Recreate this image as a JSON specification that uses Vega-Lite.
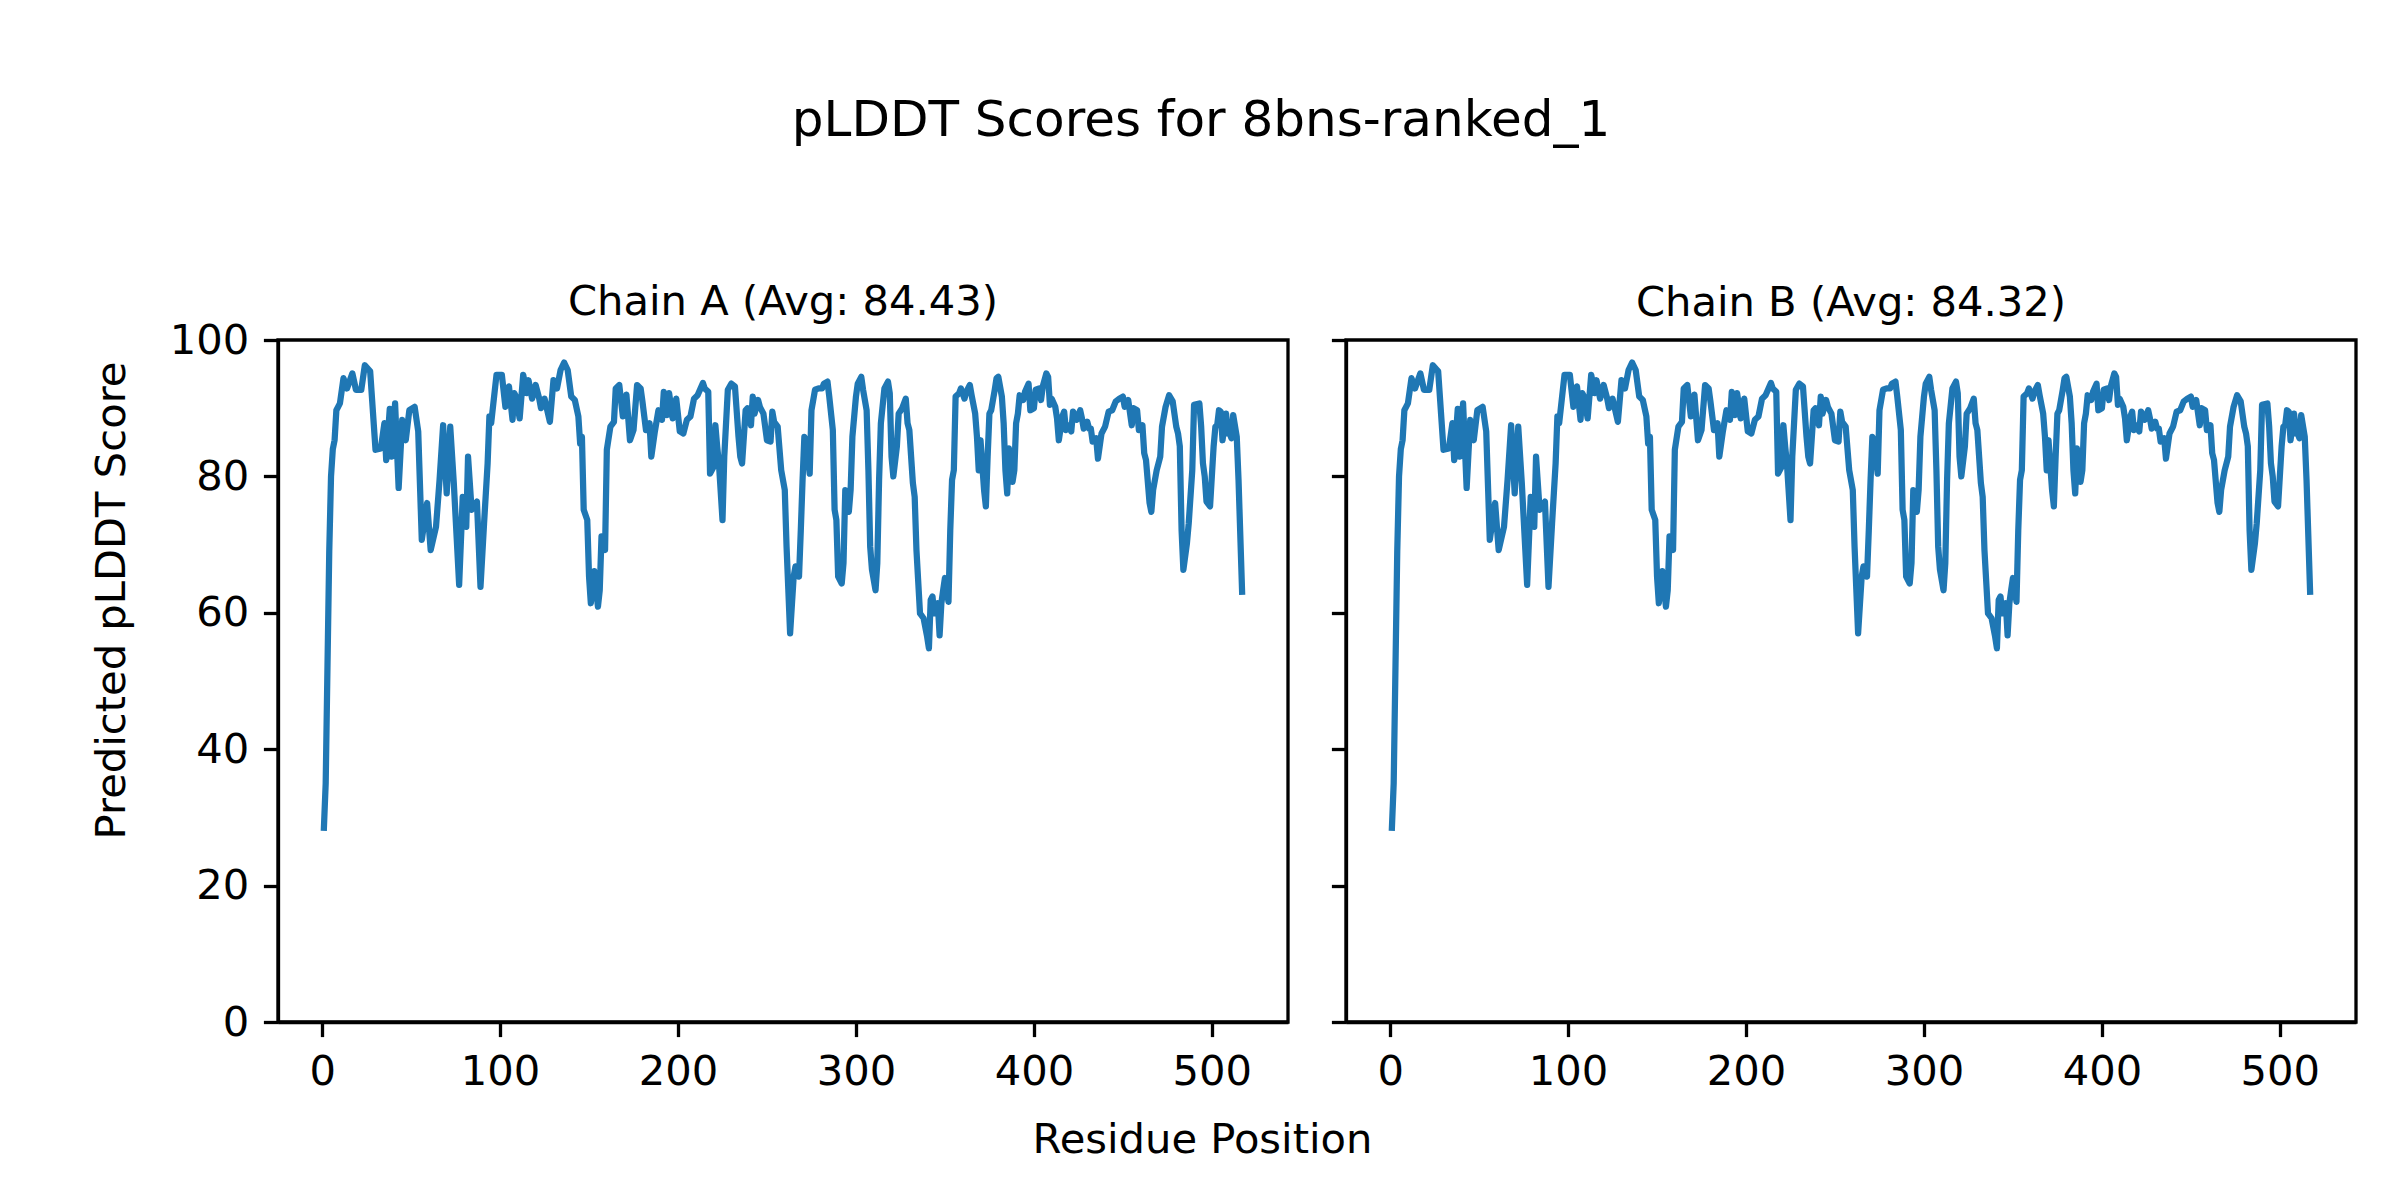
{
  "$schema": "https://vega.github.io/schema/vega-lite/v6.json",
  "background": "white",
  "padding": {"left": 89, "top": 95, "right": 0, "bottom": 0},
  "title": {"text": "pLDDT Scores for 8bns-ranked_1", "fontSize": 50, "font": "DejaVu Sans", "fontWeight": "normal", "color": "black", "anchor": "start", "align": "center", "frame": "group", "dx": 923, "offset": 95, "baseline": "alphabetic"},
  "data": {"values": [
    {"r":1,"A":28.5,"B":28.5},{"r":2,"A":35,"B":35},{"r":3,"A":52,"B":52},{"r":4,"A":69,"B":69},{"r":5,"A":80,"B":80},{"r":6,"A":84,"B":84},{"r":7,"A":85.3,"B":85.3},{"r":8,"A":89.7,"B":89.7},{"r":10,"A":90.7,"B":90.7},{"r":12,"A":94.4,"B":94.4},{"r":14,"A":92.9,"B":92.9},{"r":17,"A":95.1,"B":95.1},{"r":19,"A":92.7,"B":92.7},{"r":22,"A":92.7,"B":92.7},{"r":24,"A":96.3,"B":96.3},{"r":27,"A":95.4,"B":95.4},{"r":30,"A":83.9,"B":83.9},{"r":33,"A":84.1,"B":84.1},{"r":35,"A":87.8,"B":87.8},{"r":36,"A":82.4,"B":82.4},{"r":38,"A":89.9,"B":89.9},{"r":39,"A":82.9,"B":82.9},{"r":41,"A":90.7,"B":90.7},{"r":43,"A":78.3,"B":78.3},{"r":45,"A":88.3,"B":88.3},{"r":47,"A":85.3,"B":85.3},{"r":49,"A":89.7,"B":89.7},{"r":52,"A":90.2,"B":90.2},{"r":54,"A":86.6,"B":86.6},{"r":56,"A":70.7,"B":70.7},{"r":59,"A":76.1,"B":76.1},{"r":61,"A":69.2,"B":69.2},{"r":64,"A":72.6,"B":72.6},{"r":66,"A":79.5,"B":79.5},{"r":68,"A":87.5,"B":87.5},{"r":70,"A":77.5,"B":77.5},{"r":72,"A":87.3,"B":87.3},{"r":74,"A":79.0,"B":79.0},{"r":77,"A":64.1,"B":64.1},{"r":79,"A":77.0,"B":77.0},{"r":81,"A":72.6,"B":72.6},{"r":82,"A":82.9,"B":82.9},{"r":84,"A":75.1,"B":75.1},{"r":87,"A":76.3,"B":76.3},{"r":89,"A":63.8,"B":63.8},{"r":91,"A":73.1,"B":73.1},{"r":93,"A":81.9,"B":81.9},{"r":94,"A":88.8,"B":88.8},{"r":95,"A":87.8,"B":87.8},{"r":98,"A":94.9,"B":94.9},{"r":101,"A":94.9,"B":94.9},{"r":103,"A":90.2,"B":90.2},{"r":105,"A":93.2,"B":93.2},{"r":107,"A":88.3,"B":88.3},{"r":108,"A":92.2,"B":92.2},{"r":109,"A":91.7,"B":91.7},{"r":111,"A":88.5,"B":88.5},{"r":113,"A":94.9,"B":94.9},{"r":115,"A":92.2,"B":92.2},{"r":116,"A":94.1,"B":94.1},{"r":118,"A":91.4,"B":91.4},{"r":120,"A":93.4,"B":93.4},{"r":122,"A":91.4,"B":91.4},{"r":123,"A":90.0,"B":90.0},{"r":125,"A":91.4,"B":91.4},{"r":128,"A":88.0,"B":88.0},{"r":130,"A":94.1,"B":94.1},{"r":132,"A":92.9,"B":92.9},{"r":134,"A":95.6,"B":95.6},{"r":136,"A":96.7,"B":96.7},{"r":138,"A":95.6,"B":95.6},{"r":140,"A":91.7,"B":91.7},{"r":142,"A":91.2,"B":91.2},{"r":144,"A":88.8,"B":88.8},{"r":145,"A":84.8,"B":84.8},{"r":146,"A":85.8,"B":85.8},{"r":147,"A":75.1,"B":75.1},{"r":149,"A":73.6,"B":73.6},{"r":150,"A":65.3,"B":65.3},{"r":151,"A":61.4,"B":61.4},{"r":153,"A":66.1,"B":66.1},{"r":155,"A":60.9,"B":60.9},{"r":156,"A":63.3,"B":63.3},{"r":157,"A":71.2,"B":71.2},{"r":159,"A":69.2,"B":69.2},{"r":160,"A":83.9,"B":83.9},{"r":162,"A":87.3,"B":87.3},{"r":164,"A":88.0,"B":88.0},{"r":165,"A":92.9,"B":92.9},{"r":167,"A":93.4,"B":93.4},{"r":169,"A":88.8,"B":88.8},{"r":171,"A":92.0,"B":92.0},{"r":173,"A":85.3,"B":85.3},{"r":175,"A":86.8,"B":86.8},{"r":177,"A":93.4,"B":93.4},{"r":179,"A":92.9,"B":92.9},{"r":180,"A":91.0,"B":91.0},{"r":182,"A":86.8,"B":86.8},{"r":184,"A":87.8,"B":87.8},{"r":185,"A":82.9,"B":82.9},{"r":187,"A":86.6,"B":86.6},{"r":189,"A":89.7,"B":89.7},{"r":191,"A":88.3,"B":88.3},{"r":192,"A":92.4,"B":92.4},{"r":194,"A":89.0,"B":89.0},{"r":195,"A":92.2,"B":92.2},{"r":197,"A":88.5,"B":88.5},{"r":199,"A":91.4,"B":91.4},{"r":201,"A":86.6,"B":86.6},{"r":203,"A":86.3,"B":86.3},{"r":205,"A":88.3,"B":88.3},{"r":207,"A":88.8,"B":88.8},{"r":209,"A":91.4,"B":91.4},{"r":211,"A":91.9,"B":91.9},{"r":214,"A":93.7,"B":93.7},{"r":215,"A":92.9,"B":92.9},{"r":217,"A":92.4,"B":92.4},{"r":218,"A":80.4,"B":80.4},{"r":220,"A":81.4,"B":81.4},{"r":221,"A":87.5,"B":87.5},{"r":222,"A":84.4,"B":84.4},{"r":223,"A":81.9,"B":81.9},{"r":225,"A":73.6,"B":73.6},{"r":226,"A":82.9,"B":82.9},{"r":228,"A":92.7,"B":92.7},{"r":230,"A":93.6,"B":93.6},{"r":232,"A":93.2,"B":93.2},{"r":234,"A":85.8,"B":85.8},{"r":235,"A":82.9,"B":82.9},{"r":236,"A":81.9,"B":81.9},{"r":238,"A":89.7,"B":89.7},{"r":239,"A":90.0,"B":90.0},{"r":241,"A":87.5,"B":87.5},{"r":242,"A":91.7,"B":91.7},{"r":243,"A":89.2,"B":89.2},{"r":245,"A":91.2,"B":91.2},{"r":246,"A":90.2,"B":90.2},{"r":248,"A":89.2,"B":89.2},{"r":250,"A":85.3,"B":85.3},{"r":252,"A":85.1,"B":85.1},{"r":253,"A":89.5,"B":89.5},{"r":254,"A":88.0,"B":88.0},{"r":256,"A":87.3,"B":87.3},{"r":258,"A":80.9,"B":80.9},{"r":260,"A":78.0,"B":78.0},{"r":261,"A":69.7,"B":69.7},{"r":263,"A":57.0,"B":57.0},{"r":265,"A":65.3,"B":65.3},{"r":266,"A":66.8,"B":66.8},{"r":268,"A":65.3,"B":65.3},{"r":269,"A":72.1,"B":72.1},{"r":270,"A":79.5,"B":79.5},{"r":271,"A":85.8,"B":85.8},{"r":272,"A":85.3,"B":85.3},{"r":274,"A":80.4,"B":80.4},{"r":275,"A":89.7,"B":89.7},{"r":277,"A":92.7,"B":92.7},{"r":279,"A":92.9,"B":92.9},{"r":281,"A":92.9,"B":92.9},{"r":282,"A":93.6,"B":93.6},{"r":284,"A":93.9,"B":93.9},{"r":285,"A":91.7,"B":91.7},{"r":287,"A":86.8,"B":86.8},{"r":288,"A":75.1,"B":75.1},{"r":289,"A":73.6,"B":73.6},{"r":290,"A":65.3,"B":65.3},{"r":292,"A":64.3,"B":64.3},{"r":293,"A":67.3,"B":67.3},{"r":294,"A":78.0,"B":78.0},{"r":296,"A":74.8,"B":74.8},{"r":297,"A":78.0,"B":78.0},{"r":298,"A":85.8,"B":85.8},{"r":300,"A":91.7,"B":91.7},{"r":301,"A":93.6,"B":93.6},{"r":303,"A":94.6,"B":94.6},{"r":304,"A":92.7,"B":92.7},{"r":306,"A":89.7,"B":89.7},{"r":307,"A":80.9,"B":80.9},{"r":308,"A":69.7,"B":69.7},{"r":309,"A":66.3,"B":66.3},{"r":311,"A":63.3,"B":63.3},{"r":312,"A":67.3,"B":67.3},{"r":313,"A":79.5,"B":79.5},{"r":314,"A":87.8,"B":87.8},{"r":316,"A":92.9,"B":92.9},{"r":318,"A":93.9,"B":93.9},{"r":319,"A":92.2,"B":92.2},{"r":320,"A":82.9,"B":82.9},{"r":321,"A":80.0,"B":80.0},{"r":323,"A":84.4,"B":84.4},{"r":324,"A":89.2,"B":89.2},{"r":326,"A":90.0,"B":90.0},{"r":328,"A":91.4,"B":91.4},{"r":329,"A":87.8,"B":87.8},{"r":330,"A":86.8,"B":86.8},{"r":332,"A":79.0,"B":79.0},{"r":333,"A":77.0,"B":77.0},{"r":334,"A":69.2,"B":69.2},{"r":336,"A":59.9,"B":59.9},{"r":338,"A":59.2,"B":59.2},{"r":340,"A":56.5,"B":56.5},{"r":341,"A":54.8,"B":54.8},{"r":342,"A":61.9,"B":61.9},{"r":343,"A":62.4,"B":62.4},{"r":344,"A":59.9,"B":59.9},{"r":346,"A":61.4,"B":61.4},{"r":347,"A":56.7,"B":56.7},{"r":348,"A":61.4,"B":61.4},{"r":349,"A":63.3,"B":63.3},{"r":350,"A":65.1,"B":65.1},{"r":352,"A":61.6,"B":61.6},{"r":353,"A":72.1,"B":72.1},{"r":354,"A":79.5,"B":79.5},{"r":355,"A":80.9,"B":80.9},{"r":356,"A":91.7,"B":91.7},{"r":358,"A":92.2,"B":92.2},{"r":359,"A":92.9,"B":92.9},{"r":361,"A":91.4,"B":91.4},{"r":362,"A":92.4,"B":92.4},{"r":364,"A":93.4,"B":93.4},{"r":365,"A":91.9,"B":91.9},{"r":367,"A":89.2,"B":89.2},{"r":368,"A":85.8,"B":85.8},{"r":369,"A":80.9,"B":80.9},{"r":370,"A":85.3,"B":85.3},{"r":372,"A":78.0,"B":78.0},{"r":373,"A":75.6,"B":75.6},{"r":374,"A":82.9,"B":82.9},{"r":375,"A":89.2,"B":89.2},{"r":376,"A":89.7,"B":89.7},{"r":378,"A":92.7,"B":92.7},{"r":379,"A":94.4,"B":94.4},{"r":380,"A":94.6,"B":94.6},{"r":382,"A":91.7,"B":91.7},{"r":383,"A":87.8,"B":87.8},{"r":384,"A":80.9,"B":80.9},{"r":385,"A":77.5,"B":77.5},{"r":386,"A":84.1,"B":84.1},{"r":387,"A":82.4,"B":82.4},{"r":388,"A":79.2,"B":79.2},{"r":389,"A":80.9,"B":80.9},{"r":390,"A":87.8,"B":87.8},{"r":391,"A":89.2,"B":89.2},{"r":392,"A":91.9,"B":91.9},{"r":394,"A":91.2,"B":91.2},{"r":395,"A":92.4,"B":92.4},{"r":397,"A":93.6,"B":93.6},{"r":398,"A":89.7,"B":89.7},{"r":400,"A":90.0,"B":90.0},{"r":401,"A":92.7,"B":92.7},{"r":403,"A":92.9,"B":92.9},{"r":404,"A":91.2,"B":91.2},{"r":405,"A":93.2,"B":93.2},{"r":407,"A":95.1,"B":95.1},{"r":408,"A":94.6,"B":94.6},{"r":409,"A":90.5,"B":90.5},{"r":410,"A":91.4,"B":91.4},{"r":412,"A":90.2,"B":90.2},{"r":413,"A":88.5,"B":88.5},{"r":414,"A":85.3,"B":85.3},{"r":416,"A":88.8,"B":88.8},{"r":417,"A":89.5,"B":89.5},{"r":418,"A":86.8,"B":86.8},{"r":419,"A":87.5,"B":87.5},{"r":421,"A":86.6,"B":86.6},{"r":422,"A":89.5,"B":89.5},{"r":424,"A":88.3,"B":88.3},{"r":426,"A":89.7,"B":89.7},{"r":427,"A":88.5,"B":88.5},{"r":428,"A":87.0,"B":87.0},{"r":430,"A":88.0,"B":88.0},{"r":431,"A":87.0,"B":87.0},{"r":432,"A":87.0,"B":87.0},{"r":433,"A":85.1,"B":85.1},{"r":435,"A":85.6,"B":85.6},{"r":436,"A":82.6,"B":82.6},{"r":438,"A":86.3,"B":86.3},{"r":440,"A":87.3,"B":87.3},{"r":442,"A":89.5,"B":89.5},{"r":444,"A":89.7,"B":89.7},{"r":446,"A":91.0,"B":91.0},{"r":448,"A":91.4,"B":91.4},{"r":450,"A":91.7,"B":91.7},{"r":451,"A":90.2,"B":90.2},{"r":453,"A":91.2,"B":91.2},{"r":455,"A":87.5,"B":87.5},{"r":456,"A":90.0,"B":90.0},{"r":458,"A":89.7,"B":89.7},{"r":459,"A":86.8,"B":86.8},{"r":461,"A":87.5,"B":87.5},{"r":462,"A":83.4,"B":83.4},{"r":463,"A":82.4,"B":82.4},{"r":465,"A":76.1,"B":76.1},{"r":466,"A":74.8,"B":74.8},{"r":467,"A":78.0,"B":78.0},{"r":469,"A":80.9,"B":80.9},{"r":470,"A":81.9,"B":81.9},{"r":471,"A":82.9,"B":82.9},{"r":472,"A":87.3,"B":87.3},{"r":474,"A":90.2,"B":90.2},{"r":476,"A":91.9,"B":91.9},{"r":478,"A":91.0,"B":91.0},{"r":480,"A":87.3,"B":87.3},{"r":481,"A":86.3,"B":86.3},{"r":482,"A":84.4,"B":84.4},{"r":483,"A":72.1,"B":72.1},{"r":484,"A":66.3,"B":66.3},{"r":486,"A":70.2,"B":70.2},{"r":487,"A":73.1,"B":73.1},{"r":489,"A":80.9,"B":80.9},{"r":490,"A":90.5,"B":90.5},{"r":493,"A":90.7,"B":90.7},{"r":494,"A":87.3,"B":87.3},{"r":495,"A":81.9,"B":81.9},{"r":496,"A":80.0,"B":80.0},{"r":497,"A":76.3,"B":76.3},{"r":499,"A":75.6,"B":75.6},{"r":500,"A":80.0,"B":80.0},{"r":501,"A":84.4,"B":84.4},{"r":502,"A":87.3,"B":87.3},{"r":503,"A":87.5,"B":87.5},{"r":504,"A":89.7,"B":89.7},{"r":505,"A":89.5,"B":89.5},{"r":506,"A":85.3,"B":85.3},{"r":508,"A":89.2,"B":89.2},{"r":509,"A":86.3,"B":86.3},{"r":510,"A":86.3,"B":86.3},{"r":511,"A":85.6,"B":85.6},{"r":512,"A":89.0,"B":89.0},{"r":514,"A":85.8,"B":85.8},{"r":515,"A":79.5,"B":79.5},{"r":517,"A":63.1,"B":63.1}
  ]},
  "spacing": 58,
  "bounds": "flush",
  "hconcat": [
    {
      "width": 1010,
      "height": 682,
      "title": {"text": "Chain A (Avg: 84.43)", "fontSize": 41.67, "fontWeight": "normal", "font": "DejaVu Sans", "color": "black", "anchor": "middle", "baseline": "alphabetic", "offset": -37},
      "mark": {"type": "line", "color": "#1f77b4", "strokeWidth": 6.25, "strokeCap": "square", "strokeJoin": "round", "clip": true},
      "encoding": {
        "x": {"field": "r", "type": "quantitative", "scale": {"domain": [-24.8, 542.8], "nice": false, "zero": false},
              "axis": {"values": [0, 100, 200, 300, 400, 500], "title": "Residue Position", "titleX": 924, "titlePadding": 27}},
        "y": {"field": "A", "type": "quantitative", "scale": {"domain": [0, 100], "nice": false},
              "axis": {"values": [0, 20, 40, 60, 80, 100], "title": "Predicted pLDDT Score", "titlePadding": 36, "titleY": 260}}
      }
    },
    {
      "width": 1010,
      "height": 682,
      "title": {"text": "Chain B (Avg: 84.32)", "fontSize": 41.67, "fontWeight": "normal", "font": "DejaVu Sans", "color": "black", "anchor": "middle", "baseline": "alphabetic", "offset": -19},
      "mark": {"type": "line", "color": "#1f77b4", "strokeWidth": 6.25, "strokeCap": "square", "strokeJoin": "round", "clip": true},
      "encoding": {
        "x": {"field": "r", "type": "quantitative", "scale": {"domain": [-24.8, 542.8], "nice": false, "zero": false},
              "axis": {"values": [0, 100, 200, 300, 400, 500], "title": null}},
        "y": {"field": "B", "type": "quantitative", "scale": {"domain": [0, 100], "nice": false},
              "axis": {"values": [0, 20, 40, 60, 80, 100], "title": null, "labels": false}}
      }
    }
  ],
  "config": {
    "font": "DejaVu Sans",
    "view": {"stroke": "black", "strokeWidth": 3.3},
    "axis": {"grid": false, "domainColor": "black", "domainWidth": 3.3, "tickColor": "black", "tickWidth": 3.3, "tickSize": 14.6, "labelFontSize": 41.67, "labelColor": "black", "labelPadding": 14.6, "labelFlush": false, "labelOverlap": false, "titleFontSize": 41.67, "titleFontWeight": "normal", "titleColor": "black", "titleFont": "DejaVu Sans", "labelFont": "DejaVu Sans"}
  }
}
